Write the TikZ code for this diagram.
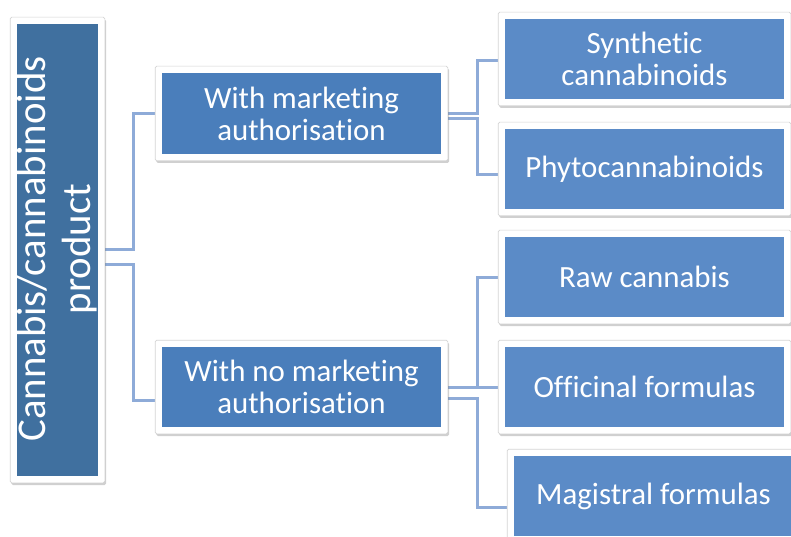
\documentclass[tikz,border=0pt]{standalone}
\usepackage{fontspec}
\setmainfont{Carlito}[Ligatures=NoCommon]
\usetikzlibrary{calc,fit,backgrounds,shadows}
\definecolor{rootblue}{HTML}{40709F}
\definecolor{midblue}{HTML}{4A7EBB}
\definecolor{leafblue}{HTML}{5B8BC7}
\definecolor{connblue}{HTML}{8EABD8}
\definecolor{framegray}{HTML}{D4D4D4}
\begin{document}
\begin{tikzpicture}[x=1bp,y=-1bp,
  box/.style={rectangle, inner sep=0pt, text=white, align=center, minimum width=279bp, minimum height=80bp, font=\fontsize{31}{32}\selectfont},
  rootbox/.style={rectangle, inner sep=0pt, fill=rootblue, minimum width=81bp, minimum height=452bp},
  midbox/.style={box, fill=midblue, minimum height=81bp},
  leafbox/.style={box, fill=leafblue},
  framebox/.style={rectangle, fill=white, draw=framegray, line width=0.6bp, rounded corners=1.5bp, inner sep=6.6bp, drop shadow={shadow xshift=1.2bp, shadow yshift=-2.2bp, opacity=0.3, fill=black!60}},
  conn/.style={draw=connblue, line width=3bp}
]
\useasboundingbox (0,0) rectangle (791,537);
% boxes
\node[rootbox] (root) at (57.5,250) {};
\node[rotate=90, text=white, align=center, inner sep=0pt, font=\fontsize{41}{45}\selectfont] (roottext) at ($(root.center)+(0,-1)$) {Cannabis/cannabinoids\\product};
\node[midbox] (mid1) at (301.5,113.5) {With marketing\\authorisation};
\node[midbox, minimum height=80bp] (mid2) at (301.5,387) {With no marketing\\authorisation};
\node[leafbox] (synth) at (644.5,59) {Synthetic\\cannabinoids};
\node[leafbox] (phyto) at (644.5,169) {Phytocannabinoids};
\node[leafbox] (raw) at (644.5,277) {Raw cannabis};
\node[leafbox] (offic) at (644.5,387) {Officinal formulas};
\node[leafbox] (magis) at (653.5,496) {Magistral formulas};
% bus positions
\coordinate (busA) at (133,0);
\coordinate (busB) at (477,0);
\coordinate (r2) at ($(root.east)+(0,15)$);
\coordinate (m1b) at ($(mid1.east)+(0,5.5)$);
\coordinate (m2b) at ($(mid2.east)+(0,11)$);
\begin{scope}[on background layer]
\fill[white] (0,0) rectangle (791,537);
% connectors
\draw[conn] (root.east) -- (busA|-root.east) |- (mid1.west);
\draw[conn] (r2) -- (busA|-r2) |- ($(mid2.west)+(0,13)$);
\draw[conn] (mid1.east) -- (busB|-mid1.east) |- ($(synth.west)+(0,2)$);
\draw[conn] (m1b) -- (busB|-m1b) |- ($(phyto.west)+(0,6)$);
\draw[conn] (mid2.east) -- (offic.west);
\draw[conn] (mid2.east) -- (busB|-mid2.east) |- ($(raw.west)+(0,1)$);
\draw[conn] (m2b) -- (busB|-m2b) |- ($(magis.west)+(0,11)$);
% frames
\node[framebox, fit=(root)] (rootframe) {};
\node[framebox, fit=(mid1)] (mid1frame) {};
\node[framebox, fit=(mid2)] (mid2frame) {};
\node[framebox, fit=(synth)] (synthframe) {};
\node[framebox, fit=(phyto)] (phytoframe) {};
\node[framebox, fit=(raw)] (rawframe) {};
\node[framebox, fit=(offic)] (officframe) {};
\node[framebox, fit=(magis)] (magisframe) {};
\end{scope}
\end{tikzpicture}
\end{document}
